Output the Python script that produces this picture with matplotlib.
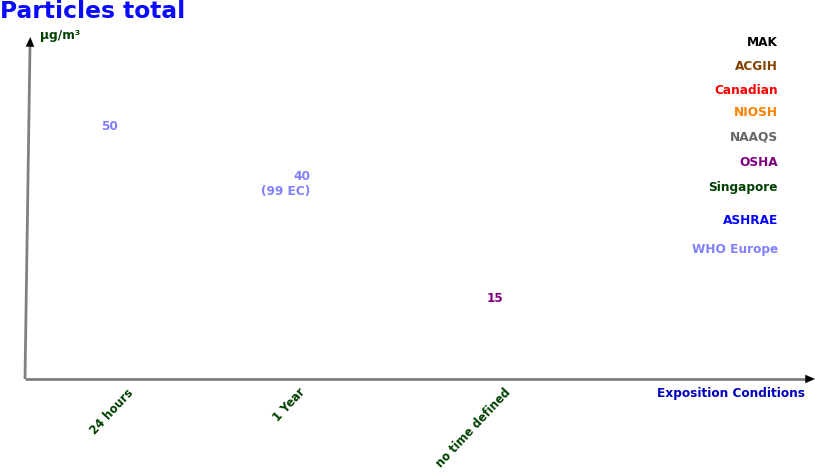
import matplotlib
matplotlib.use("Agg")
import matplotlib.pyplot as plt

# ---- data ----
categories = ["24 hours", "1 Year", "no time defined"]
value_labels = ["50", "40", "15"]
values = [50, 40, 15]
value_notes = ["", "(99 EC)", ""]
value_sources = ["WHO Europe", "WHO Europe", "OSHA"]
sources = ["MAK", "ACGIH", "Canadian", "NIOSH", "NAAQS", "OSHA", "Singapore", "ASHRAE", "WHO Europe"]
source_colors = ["#000000", "#804000", "#ff0000", "#ff8000", "#666666", "#800080", "#004000", "#0000ff", "#8080ff"]

# ---- layout ----
W, H = 815, 474
cat_x = [110, 300, 495]          # pixel centres of category columns
tick_x = [127, 298, 504]          # where rotated tick labels end
val_align = ["center", "right", "center"]
val_xoff = [0, 10, 0]
legend_y = [43, 66, 90, 113, 137, 163, 187, 220, 249]
px_per_unit = 4.9
zero_px = 372
FS = 8.7
TICK_FS = 8.3

fig = plt.figure(figsize=(W / 100, H / 100), dpi=100)
ax = fig.add_axes([0, 0, 1, 1])
ax.set_xlim(0, W)
ax.set_ylim((zero_px - H) / px_per_unit, zero_px / px_per_unit)
ax.axis("off")

def py(p):
    return (zero_px - p) / px_per_unit

font = dict(family="DejaVu Sans", fontweight="bold")

# axes lines
ax.plot([25, 806], [py(379), py(379)], color="#808080", lw=2, solid_capstyle="butt")
ax.plot([25, 30], [py(379), py(46)], color="#808080", lw=2, solid_capstyle="butt")
head = "-|>,head_length=0.5,head_width=0.22"
ax.annotate("", xy=(815, py(379)), xytext=(800, py(379)),
            arrowprops=dict(arrowstyle=head, color="black", lw=0, mutation_scale=14,
                            shrinkA=0, shrinkB=0))
ax.annotate("", xy=(30.3, py(37)), xytext=(29.8, py(52)),
            arrowprops=dict(arrowstyle=head, color="black", lw=0, mutation_scale=14,
                            shrinkA=0, shrinkB=0))

# title and axis labels
ax.text(0, py(0), "Particles total", color="#0a0aff", fontsize=16.8, va="top", ha="left", **font)
ax.text(40, py(36), "µg/m³", color="#004000", fontsize=8.8, va="center", ha="left", **font)
ax.text(805, py(393), "Exposition Conditions", color="#0000c0", fontsize=FS,
        va="center", ha="right", **font)

# category tick labels
for x, c in zip(tick_x, categories):
    ax.text(x, py(386), c, rotation=47, rotation_mode="anchor", color="#004000",
            fontsize=TICK_FS, ha="right", va="top", **font)

# values
col = dict(zip(sources, source_colors))
for x, xo, al, v, lab, note, src in zip(cat_x, val_xoff, val_align, values, value_labels,
                                          value_notes, value_sources):
    ax.text(x + xo, v, lab, color=col[src], fontsize=FS, ha=al, va="center", **font)
    if note:
        ax.annotate(note, xy=(x + xo, v), xytext=(0, -11), textcoords="offset points",
                    color=col[src], fontsize=FS, ha=al, va="center", **font)

# source legend
for y, s, c in zip(legend_y, sources, source_colors):
    ax.text(778, py(y), s, color=c, fontsize=FS, ha="right", va="center", **font)

fig.savefig("out.png", dpi=100)
